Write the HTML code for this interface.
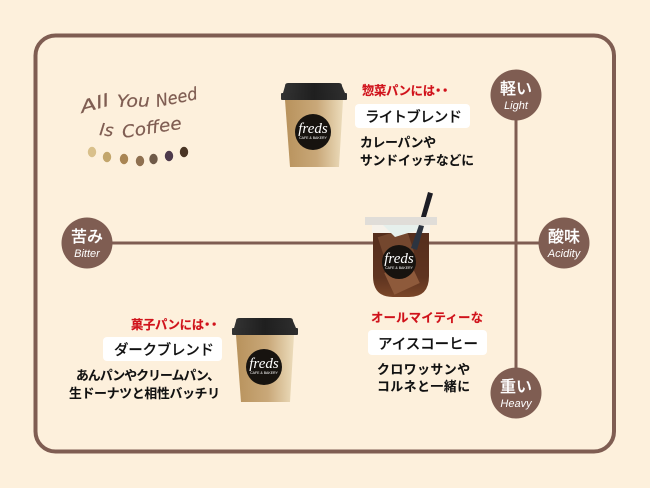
<!DOCTYPE html>
<html><head><meta charset="utf-8">
<style>
html,body{margin:0;padding:0;background:#fdf0dc;width:650px;height:488px;overflow:hidden}
svg{display:block}
.j{font-family:"Liberation Sans","Noto Sans CJK JP",sans-serif}
.b{font-weight:700;font-size:12.8px;fill:#111;stroke:#111;stroke-width:.1}
.r{font-weight:700;font-size:12.3px;fill:#d0121b;stroke:#d0121b;stroke-width:.15}
.l{font-weight:500;font-size:14.500px;fill:#111;stroke:#111;stroke-width:.15}
.n{font-weight:500;font-size:16px;fill:#fff;stroke:#fff;stroke-width:.15}
.e{font-family:"Liberation Sans",sans-serif;font-style:italic;font-size:11px;fill:#fff}
.h{font-family:"DejaVu Sans",sans-serif;font-style:oblique;fill:#7f5d52;stroke:#7f5d52;stroke-width:.2;font-size:17px}
</style></head><body>
<svg width="650" height="488" viewBox="0 0 650 488" xmlns="http://www.w3.org/2000/svg">
<defs>
<linearGradient id="cup" x1="0" x2="1" y1="0" y2="0"><stop offset="0" stop-color="#b8925c"/><stop offset=".55" stop-color="#c9a879"/><stop offset="1" stop-color="#ecdcbb"/></linearGradient>
<linearGradient id="lid" x1="0" x2="1" y1="0" y2="0"><stop offset="0" stop-color="#333"/><stop offset=".5" stop-color="#1f1f1f"/><stop offset="1" stop-color="#2e2e2e"/></linearGradient>
<linearGradient id="ice" x1="0" x2="0" y1="0" y2="1"><stop offset="0" stop-color="#552e1c"/><stop offset=".7" stop-color="#5f3420"/><stop offset="1" stop-color="#7a4628"/></linearGradient>
<clipPath id="iceclip"><path d="M373 233H429V276Q429 297 409 297H393Q373 297 373 276Z"/></clipPath>
</defs>
<rect x="35.500" y="35.500" width="578.500" height="416" rx="20" fill="none" stroke="#7f5d52" stroke-width="4"/>
<rect x="86" y="241.500" width="478" height="3" fill="#7f5d52"/>
<rect x="514.500" y="95" width="3" height="298" fill="#7f5d52"/>

<g fill="#7f5d52">
<circle cx="516" cy="95" r="25.500"/>
<circle cx="564" cy="243" r="25.500"/>
<circle cx="516" cy="393" r="25.500"/>
<circle cx="87" cy="243" r="25.500"/>
</g>
<g class="j" text-anchor="middle">
<text class="n" x="516" y="94">軽い</text><text class="e" x="516" y="109">Light</text>
<text class="n" x="564" y="242">酸味</text><text class="e" x="564" y="257">Acidity</text>
<text class="n" x="516" y="392">重い</text><text class="e" x="516" y="407">Heavy</text>
<text class="n" x="87" y="242">苦み</text><text class="e" x="87" y="257">Bitter</text>
</g>

<text class="h" transform="translate(82,113) rotate(-15)" textLength="29" lengthAdjust="spacingAndGlyphs">All</text>
<text class="h" transform="translate(117,107) rotate(-1)" textLength="33" lengthAdjust="spacingAndGlyphs">You</text>
<text class="h" transform="translate(157,107) rotate(-11)" textLength="42" lengthAdjust="spacingAndGlyphs">Need</text>
<text class="h" transform="translate(99,135) rotate(6)" textLength="14" lengthAdjust="spacingAndGlyphs">Is</text>
<text class="h" transform="translate(123,138) rotate(-9)" textLength="60" lengthAdjust="spacingAndGlyphs">Coffee</text>
<g>
<ellipse cx="92" cy="152" rx="4.200" ry="5.200" fill="#d9c08b"/>
<ellipse cx="107" cy="157" rx="4.200" ry="5.200" fill="#c3a66c"/>
<ellipse cx="124" cy="159" rx="4.200" ry="5.200" fill="#a98553"/>
<ellipse cx="140" cy="161" rx="4.200" ry="5.200" fill="#8f7050"/>
<ellipse cx="153.500" cy="159" rx="4.200" ry="5.200" fill="#6f5a48"/>
<ellipse cx="169" cy="156" rx="4.200" ry="5.200" fill="#4e3a4c"/>
<ellipse cx="184" cy="152" rx="4.200" ry="5.200" fill="#4a3524"/>
</g>

<g id="hot">
<path d="M285 100H343L339 167H290Z" fill="url(#cup)"/>
<path d="M285 86Q285 83 288 83H339Q342 83 342 86L345 93H283Z" fill="url(#lid)"/>
<rect x="281" y="93" width="66" height="7" rx="1" fill="url(#lid)"/>
<circle cx="313" cy="132" r="18" fill="#17130f"/>
<text x="313" y="133" text-anchor="middle" font-family="Liberation Serif,serif" font-style="italic" font-size="15" fill="#fff">freds</text>
<text x="313" y="139" text-anchor="middle" font-family="Liberation Sans,sans-serif" font-size="3.500" fill="#fff">CAFE &amp; BAKERY</text>
</g>
<use href="#hot" transform="translate(-49,235)"/>

<g>
<path d="M372 225H430V233H372Z" fill="#f6f2ea"/>
<path d="M373 233H429V276Q429 297 409 297H393Q373 297 373 276Z" fill="url(#ice)"/>
<g clip-path="url(#iceclip)">
<rect x="381" y="232" width="30" height="26" transform="rotate(-18 396 245)" fill="#74472e"/>
<rect x="388" y="266" width="28" height="24" transform="rotate(-25 402 278)" fill="#8e5a3b"/>
</g>
<path d="M383 225H421V229L395 237Z" fill="#e6f0ec"/>
<path d="M428 192L433 193.500L426 217H421Z" fill="#1d1d24"/>
<rect x="365" y="217" width="72" height="8" fill="#e0ddd8"/>
<path d="M419 225L424 226L417 250L411 248Z" fill="#2c3440"/>
<circle cx="399" cy="262" r="17" fill="#17130f"/>
<text x="399" y="263" text-anchor="middle" font-family="Liberation Serif,serif" font-style="italic" font-size="15" fill="#fff">freds</text>
<text x="399" y="269" text-anchor="middle" font-family="Liberation Sans,sans-serif" font-size="3.500" fill="#fff">CAFE &amp; BAKERY</text>
</g>

<rect x="355" y="104" width="115" height="24" rx="4" fill="#fff"/>
<rect x="103" y="337" width="119" height="24" rx="4" fill="#fff"/>
<rect x="368" y="330" width="119" height="25" rx="4" fill="#fff"/>

<g class="j">
<text class="r" x="362" y="95" textLength="73">惣菜パンには</text>
<text class="r" x="432" y="95">・</text><text class="r" x="439" y="95">・</text>
<text class="l" x="365" y="122" textLength="97">ライトブレンド</text>
<text class="b" x="360" y="147" textLength="76">カレーパンや</text>
<text class="b" x="360" y="165" textLength="114">サンドイッチなどに</text>

<text class="r" x="131" y="329" textLength="73">菓子パンには</text>
<text class="r" x="201" y="329">・</text><text class="r" x="208" y="329">・</text>
<text class="l" x="114" y="355" textLength="100">ダークブレンド</text>
<text class="b" x="76" y="380" textLength="144">あんパンやクリームパン、</text>
<text class="b" x="69" y="398" textLength="151">生ドーナツと相性バッチリ</text>

<text class="r" x="371" y="322" textLength="112">オールマイティーな</text>
<text class="l" x="378" y="349" textLength="100">アイスコーヒー</text>
<text class="b" x="377" y="374" textLength="93">クロワッサンや</text>
<text class="b" x="377" y="391" textLength="93">コルネと一緒に</text>
</g>
</svg>
</body></html>
